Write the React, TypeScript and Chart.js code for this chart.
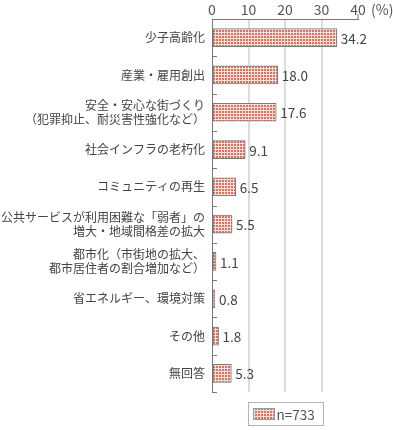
import React, { useEffect, useRef } from "react";
import { Chart, registerables } from "chart.js";

Chart.register(...registerables);

const categories: (string | string[])[] = [
  "少子高齢化",
  "産業・雇用創出",
  ["安全・安心な街づくり", "（犯罪抑止、耐災害性強化など）"],
  "社会インフラの老朽化",
  "コミュニティの再生",
  ["公共サービスが利用困難な「弱者」の", "増大・地域間格差の拡大"],
  ["都市化（市街地の拡大、", "都市居住者の割合増加など）"],
  "省エネルギー、環境対策",
  "その他",
  "無回答",
];
const values = [34.2, 18.0, 17.6, 9.1, 6.5, 5.5, 1.1, 0.8, 1.8, 5.3];
const xMin = 0;
const xMax = 40;
const xStep = 10;
const unitLabel = "(%)";
const legendLabel = "n=733";

const FONT = '"Noto Sans CJK JP", "Noto Sans", sans-serif';

function makePattern(ctx: CanvasRenderingContext2D): CanvasPattern | string {
  const tile = document.createElement("canvas");
  tile.width = 3;
  tile.height = 3;
  const t = tile.getContext("2d");
  if (!t) return "#e47c6c";
  t.fillStyle = "#fbe0da";
  t.fillRect(0, 0, 3, 3);
  t.fillStyle = "#de6e5e";
  t.fillRect(0, 0, 2, 2);
  return ctx.createPattern(tile, "repeat") || "#e47c6c";
}

export default function App() {
  const ref = useRef<HTMLCanvasElement | null>(null);

  useEffect(() => {
    const canvas = ref.current;
    if (!canvas) return;
    const ctx = canvas.getContext("2d");
    if (!ctx) return;
    const pattern = makePattern(ctx);

    const extras = {
      id: "extras",
      afterDraw(chart: any) {
        const c = chart.ctx;
        const area = chart.chartArea;
        const y = chart.scales.y;
        const x = chart.scales.x;
        c.save();
        // inward category separator ticks
        const step = y.getPixelForValue(1) - y.getPixelForValue(0);
        c.strokeStyle = "#777";
        c.lineWidth = 1;
        for (let i = 0; i <= categories.length; i++) {
          const py = Math.round(y.getPixelForValue(i) - step / 2) + 0.5;
          c.beginPath();
          c.moveTo(area.left, py);
          c.lineTo(area.left + 5, py);
          c.stroke();
        }
        // value labels
        const meta = chart.getDatasetMeta(0);
        c.fillStyle = "#444";
        c.font = `13.5px ${FONT}`;
        c.textBaseline = "middle";
        c.textAlign = "left";
        meta.data.forEach((bar: any, i: number) => {
          c.fillText(values[i].toFixed(1), bar.x + 4, bar.y + 1);
        });
        // unit label
        c.fillStyle = "#555";
        c.font = `14px ${FONT}`;
        c.textBaseline = "middle";
        c.fillText(unitLabel, x.getPixelForValue(xMax) + 13, 10);
        // legend
        const cx = (area.left + area.right) / 2;
        const bw = 75;
        const bh = 23;
        const bx = Math.round(cx - bw / 2) + 0.5;
        const by = area.bottom + 10.5;
        c.strokeStyle = "#b4b4b4";
        c.lineWidth = 1;
        c.strokeRect(bx, by, bw, bh);
        c.fillStyle = pattern as any;
        c.fillRect(bx + 5, by + 6, 21, 11);
        c.strokeStyle = "#999";
        c.strokeRect(bx + 5, by + 6, 21, 11);
        c.fillStyle = "#555";
        c.font = `13.5px ${FONT}`;
        c.textBaseline = "middle";
        c.fillText(legendLabel, bx + 28, by + bh / 2 + 1);
        c.restore();
      },
    };

    const chart = new Chart(ctx, {
      type: "bar",
      data: {
        labels: categories,
        datasets: [
          {
            data: values,
            backgroundColor: pattern as any,
            borderColor: "#7a7a7a",
            borderWidth: 1,
            borderSkipped: false,
            barThickness: 18,
          },
        ],
      },
      options: {
        indexAxis: "y",
        responsive: false,
        animation: false,
        layout: { padding: { left: 0, right: 35, top: 0, bottom: 38 } },
        plugins: { legend: { display: false }, tooltip: { enabled: false } },
        scales: {
          x: {
            position: "top",
            min: xMin,
            max: xMax,
            ticks: {
              stepSize: xStep,
              color: "#555",
              font: { family: FONT, size: 14 },
              padding: -4,
            },
            grid: {
              color: (c: any) =>
                c.tick && c.tick.value > xMin && c.tick.value < xMax ? "#dcdcdc" : "rgba(0,0,0,0)",
              lineWidth: 2,
              tickLength: 5,
              tickWidth: 1,
              tickColor: (c: any) => (c.tick && c.tick.value === xMax ? "#777" : "rgba(0,0,0,0)"),
            },
            border: { color: "#777", width: 1 },
            afterFit: (s: any) => {
              s.height = 19;
            },
          },
          y: {
            offset: true,
            ticks: {
              color: "#444",
              font: { family: FONT, size: 12, lineHeight: 1.2 },
              padding: 7,
            },
            grid: { display: true, color: "rgba(0,0,0,0)", drawTicks: false },
            border: { color: "#777", width: 1 },
            afterFit: (s: any) => {
              s.width = 212;
            },
          },
        },
      },
      plugins: [extras],
    });
    return () => chart.destroy();
  }, []);

  return (
    <div style={{ position: "fixed", left: 0, top: 0, width: 393, height: 430, background: "#fff" }}>
      <canvas ref={ref} width={393} height={430} style={{ display: "block" }} />
    </div>
  );
}
